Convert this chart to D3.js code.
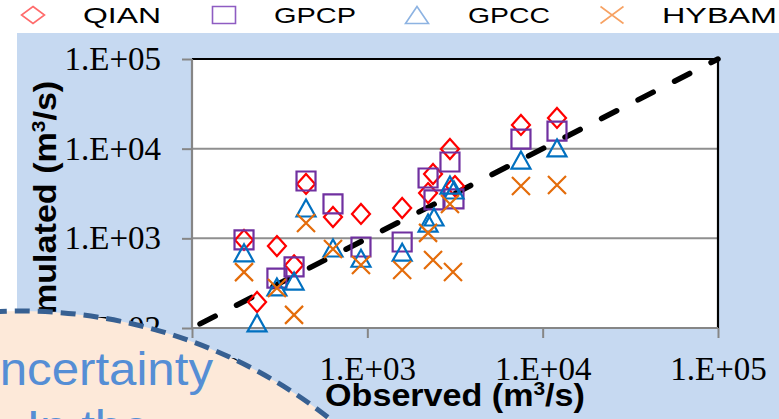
<!DOCTYPE html>
<html>
<head>
<meta charset="utf-8">
<script src="https://cdn.jsdelivr.net/npm/d3@7"></script>
<style>
  html, body { margin: 0; padding: 0; background: #ffffff; }
  svg { display: block; }
</style>
</head>
<body>
<svg id="chart" width="779" height="419"></svg>
<script>
// Observed vs simulated discharge (m3/s), log-log, per precipitation source
const seriesNames = ["QIAN", "GPCP", "GPCC", "HYBAM"];

const qianObs = [198, 235, 305, 382, 447, 637, 920, 1580, 2220, 2370, 2960, 3160, 7520, 12070];
const qianSim = [960, 195, 820, 500, 4040, 1730, 1870, 2180, 3200, 5220, 9910, 3830, 18400, 22000];

const gpcpObs = [198, 305, 382, 447, 637, 920, 1580, 2220, 2400, 2960, 3120, 7520, 12070];
const gpcpSim = [960, 360, 480, 4360, 2420, 800, 910, 4710, 2680, 7100, 2750, 12800, 15700];

const gpccObs = [198, 235, 305, 382, 447, 637, 920, 1580, 2220, 2400, 2960, 3120, 7520, 12070];
const gpccSim = [690, 114, 287, 334, 2180, 780, 600, 700, 1480, 1730, 3930, 3460, 7470, 10200];

const hybamObs = [198, 305, 382, 447, 637, 920, 1580, 2220, 2370, 2960, 3080, 7520, 12070];
const hybamSim = [420, 279, 140, 1480, 760, 504, 444, 1150, 573, 2420, 421, 3830, 3930];

const tickValues = [1e2, 1e3, 1e4, 1e5];
const tickLabels = ["1.E+02", "1.E+03", "1.E+04", "1.E+05"];
const lineOfEquality = [1e2, 1e5];

const xTitle = "Observed (m", yTitle = "Simulated (m";
const noteLines = ["Uncertainty", "In the"];

const svg = d3.select("#chart");

// light blue slide panel
svg.append("rect").attr("x", 17).attr("y", 33).attr("width", 779 - 17).attr("height", 419 - 33)
  .attr("fill", "#c6d9f1");

const plotL = 192, plotR = 718, plotT = 59, plotB = 328;
const x = d3.scaleLog().domain([1e2, 1e5]).range([plotL, plotR]);
const y = d3.scaleLog().domain([1e2, 1e5]).range([plotB, plotT]);
const fmt = d => tickLabels[tickValues.indexOf(d)];

// plot area
svg.append("rect").attr("x", plotL).attr("y", plotT).attr("width", plotR - plotL).attr("height", plotB - plotT)
  .attr("fill", "#ffffff");

// horizontal gridlines
svg.append("g").selectAll("line").data(tickValues.slice(1, 3)).join("line")
  .attr("x1", plotL).attr("x2", plotR).attr("y1", d => y(d)).attr("y2", d => y(d))
  .attr("stroke", "#8f8f8f").attr("stroke-width", 2);

// black frame on top and right
svg.append("path")
  .attr("d", `M${plotL},${plotT}H${plotR}V${plotB}`)
  .attr("fill", "none").attr("stroke", "#000").attr("stroke-width", 2.2);

// axes
const yAxis = svg.append("g").attr("transform", `translate(${plotL},0)`)
  .call(d3.axisLeft(y).tickValues(tickValues).tickFormat(fmt).tickSize(10).tickPadding(21));
const xAxis = svg.append("g").attr("transform", `translate(0,${plotB})`)
  .call(d3.axisBottom(x).tickValues(tickValues).tickFormat(fmt).tickSize(10).tickPadding(18.5));

[yAxis, xAxis].forEach(g => {
  g.select(".domain").attr("stroke", "#868686").attr("stroke-width", 2.2);
  g.selectAll(".tick line").attr("stroke", "#868686").attr("stroke-width", 2);
  g.selectAll(".tick text")
    .attr("fill", "#000")
    .style("font-family", "'Liberation Serif', 'Times New Roman', serif")
    .style("font-size", "33px");
});
yAxis.select(".domain").attr("d", `M0,${plotB}V${plotT}`);
xAxis.select(".domain").attr("d", `M${plotL},0H${plotR}`);

// 1:1 line
svg.append("line")
  .attr("x1", x(lineOfEquality[0])).attr("y1", y(lineOfEquality[0]))
  .attr("x2", x(lineOfEquality[1])).attr("y2", y(lineOfEquality[1]))
  .attr("stroke", "#000").attr("stroke-width", 5.5)
  .attr("stroke-linecap", "round")
  .attr("stroke-dasharray", "17 24").attr("stroke-dashoffset", 32);

// marker shapes, centred on their bounding box
const shapes = {
  diamond: (cx, cy, w, h) => `M${cx},${cy - h}L${cx + w},${cy}L${cx},${cy + h}L${cx - w},${cy}Z`,
  square: (cx, cy, w, h) => `M${cx - w},${cy - h}H${cx + w}V${cy + h}H${cx - w}Z`,
  triangle: (cx, cy, w, h) => `M${cx},${cy - h}L${cx + w},${cy + h}H${cx - w}Z`,
  cross: (cx, cy, w, h) => `M${cx - w},${cy - h}L${cx + w},${cy + h}M${cx + w},${cy - h}L${cx - w},${cy + h}`
};

const series = [
  { name: seriesNames[0], obs: qianObs, sim: qianSim, shape: "diamond", color: "#ff0000", w: 9, h: 10, legendColor: "#ff6b6b" },
  { name: seriesNames[1], obs: gpcpObs, sim: gpcpSim, shape: "square", color: "#7030a0", w: 9.5, h: 9.5, legendColor: "#8e5cc2" },
  { name: seriesNames[2], obs: gpccObs, sim: gpccSim, shape: "triangle", color: "#0070c0", w: 9.5, h: 8.5, legendColor: "#8db3e2" },
  { name: seriesNames[3], obs: hybamObs, sim: hybamSim, shape: "cross", color: "#e46c0a", w: 9, h: 9, legendColor: "#f7a263" }
];

series.forEach(s => {
  svg.append("g").selectAll("path").data(s.obs.map((o, i) => [o, s.sim[i]])).join("path")
    .attr("d", d => shapes[s.shape](x(d[0]), y(d[1]), s.w, s.h))
    .attr("fill", "none").attr("stroke", s.color).attr("stroke-width", 2.2);
});

// legend across the top
const legendMarkX = [33, 224, 417, 612];
const legendTextX = [83, 274, 468, 662];
const legendTextW = [78, 82, 82, 115];
const legend = svg.append("g");
series.forEach((s, i) => {
  legend.append("path")
    .attr("d", shapes[s.shape](legendMarkX[i], 15, 11.5, 8.5))
    .attr("fill", "none").attr("stroke", s.legendColor).attr("stroke-width", 1.6);
  legend.append("text")
    .attr("x", legendTextX[i]).attr("y", 23)
    .attr("textLength", legendTextW[i]).attr("lengthAdjust", "spacingAndGlyphs")
    .style("font-family", "'Liberation Sans', Arial, sans-serif").style("font-size", "22px")
    .attr("fill", "#000").text(s.name);
});

// axis titles with superscript
function title(g, label) {
  const t = g.append("text").attr("text-anchor", "middle")
    .style("font-family", "'Liberation Sans', Arial, sans-serif")
    .style("font-size", "31px").style("font-weight", "bold").attr("fill", "#000");
  t.append("tspan").text(label);
  t.append("tspan").attr("dy", -11).style("font-size", "19px").text("3");
  t.append("tspan").attr("dy", 11).text("/s)");
}
title(svg.append("g").attr("transform", `translate(${(plotL + plotR) / 2},406) scale(1.1,1)`), xTitle);
title(svg.append("g").attr("transform", `translate(56,${(plotT + plotB) / 2 + 20}) rotate(-90) scale(1.1,1)`), yTitle);

// callout bubble overlapping the lower-left corner
svg.append("circle").attr("cx", 20).attr("cy", 810).attr("r", 499)
  .attr("fill", "#fde9d9").attr("stroke", "#376092").attr("stroke-width", 5)
  .attr("stroke-dasharray", "15 8");

const note = svg.append("g").style("font-family", "'Liberation Sans', Arial, sans-serif")
  .style("font-size", "46px").attr("fill", "#558ed5");
note.append("text").attr("transform", "translate(213,385) scale(1.07,1)")
  .attr("text-anchor", "end").text(noteLines[0]);
note.append("text").attr("transform", "translate(88,443) scale(1.07,1)")
  .attr("text-anchor", "middle").text(noteLines[1]);
</script>
</body>
</html>
